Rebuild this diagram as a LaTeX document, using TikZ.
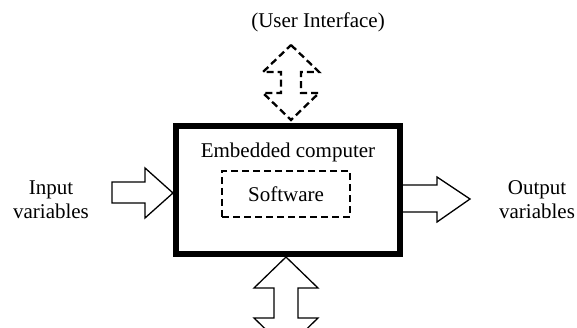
\documentclass[tikz,border=0pt]{standalone}
\usepackage{fontspec}
\setmainfont{Liberation Serif}
\begin{document}
\begin{tikzpicture}[x=1pt,y=-1pt,
  font=\fontsize{21}{24}\selectfont,
  blockarrow/.style={draw, line width=1.3pt, line join=miter},
  dasharrow/.style={draw, line width=2.3pt, dash pattern=on 7pt off 4pt, line join=miter},
  label/.style={align=center, inner sep=0pt}]
\useasboundingbox (0,0) rectangle (577,328);
\clip (0,0) rectangle (577,328);
% main box
\node[draw, line width=6pt, minimum width=224pt, minimum height=128pt, inner sep=0pt] (comp) at (288,190) {};
\node[inner sep=0pt] (title) at (288,152) {Embedded computer};
\node[draw, line width=2.3pt, dash pattern=on 7pt off 4pt, minimum width=128pt, minimum height=46pt, inner sep=0pt] (sw) at (286,194) {Software};
% labels
\node[label] (in) at (51,200) {Input\\variables};
\node[label] (out) at (537,200) {Output\\variables};
\node[inner sep=0pt] (ui) at (318,22) {(User Interface)};
% input arrow (tip on the box's west side)
\draw[blockarrow] (112,182) -- (145,182) -- (145,168) -- (comp.west |- 0,193) -- (145,218) -- (145,203) -- (112,203) -- cycle;
% output arrow
\draw[blockarrow] (comp.east |- 0,185) -- (437,185) -- (437,177) -- (470,199) -- (437,222) -- (437,212) -- (comp.east |- 0,212);
% user interface double arrow (dashed)
\coordinate (uitip) at (291,45);
\draw[dasharrow] (uitip) -- (319,72) -- (301,72) -- (301,93) -- (319,93) -- (291,120) -- (263,93) -- (281,93) -- (281,72) -- (263,72) -- cycle;
% bottom double arrow
\coordinate (btip) at (286,349);
\draw[blockarrow] (comp.south -| 286,0) -- (318,288) -- (298,288) -- (298,318) -- (318,318) -- (btip) -- (254,318) -- (274,318) -- (274,288) -- (254,288) -- cycle;
\end{tikzpicture}
\end{document}
